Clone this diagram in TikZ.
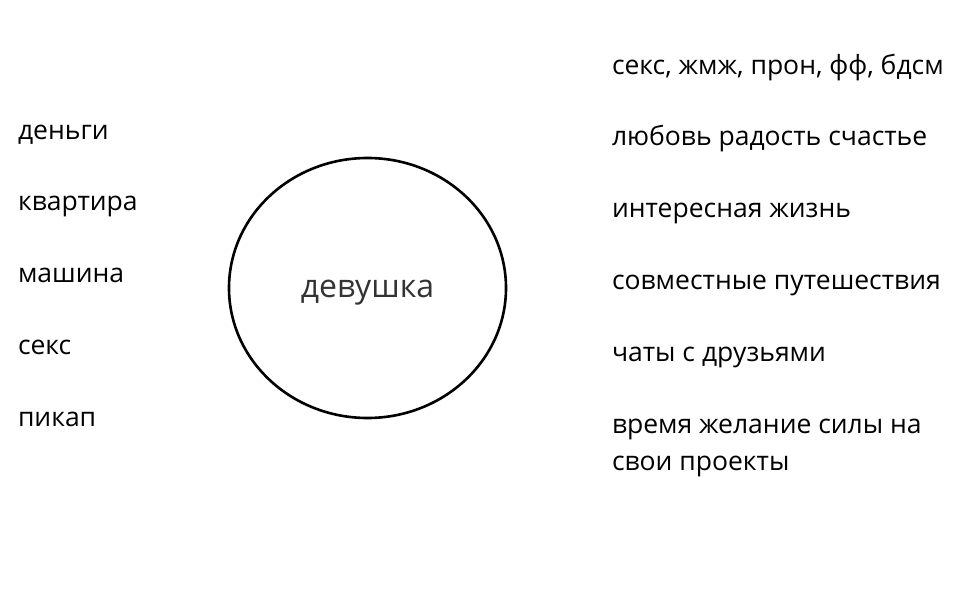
\documentclass[tikz,border=0pt]{standalone}
\usepackage{fontspec}
\setmainfont{Open Sans}
\usetikzlibrary{positioning}

\begin{document}
\begin{tikzpicture}[
		x=1pt, y=-1pt,
		every node/.style={inner sep=0pt, outer sep=0pt},
		item/.style={anchor=base west, font=\fontsize{26.5}{37}\selectfont, align=left},
		line cap=round,
		line join=round
		]
		
		\useasboundingbox (0,0) rectangle (972,596);
		
		% Circle in the middle
		\draw[line width=2.6pt] (367.5,288) ellipse (138.5 and 130);
		\node[anchor=base, font=\fontsize{32}{38}\selectfont, text=black!80] (girl) at (367.5,297) {девушка};
		
		% Left column
		\node[item] (money) at (18,139.5) {деньги};
		\node[item] (flat) at (18,210.5) {квартира};
		\node[item] (car) at (18,282.5) {машина};
		\node[item] (sexl) at (18,354.5) {секс};
		\node[item] (pickup) at (18,426.5) {пикап};
		
		% Right column
		\node[item] (sexr) at (612,74.5) {секс, жмж, прон, фф, бдсм};
		\node[item] (love) at (612,145.5) {любовь радость счастье};
		\node[item] (life) at (612,217.5) {интересная жизнь};
		\node[item] (trips) at (612,289.5) {совместные путешествия};
		\node[item] (chats) at (612,361.5) {чаты с друзьями};
		% two lines: anchor sits on the last baseline
		\node[item] (time) at (612,470.5) {время желание силы на\\свои проекты};
		
	\end{tikzpicture}
\end{document}
